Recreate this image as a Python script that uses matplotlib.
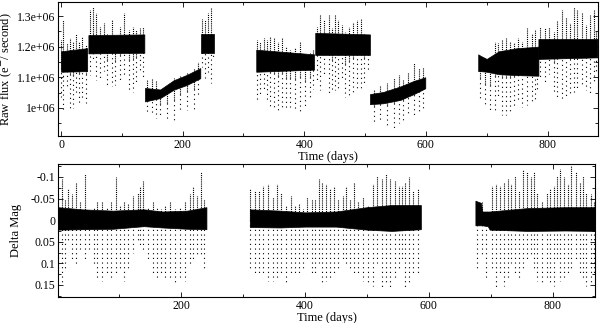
import numpy as np
import matplotlib
matplotlib.use('Agg')
import matplotlib.pyplot as plt
from matplotlib.ticker import MultipleLocator, FuncFormatter

# ---- top panel: raw flux, one band per quarter ----
top_band_seg = [1, 1, 2, 2, 3, 3, 3, 3, 3, 4, 4, 5, 5, 6, 6, 7, 7, 7, 7, 7,
                8, 8, 8, 8, 8, 8, 9, 9]
top_band_t = [0, 43, 45, 137, 138, 163, 185, 207, 229, 230, 252, 321, 416, 418, 508,
              508, 530, 558, 580, 599, 686, 690, 700, 720, 750, 785, 785, 882]
top_band_lo = [1.118, 1.120, 1.178, 1.180, 1.021, 1.032, 1.059, 1.075, 1.097, 1.178, 1.178,
               1.118, 1.125, 1.173, 1.173, 1.012, 1.015, 1.026, 1.045, 1.064,
               1.120, 1.120, 1.118, 1.110, 1.107, 1.105, 1.160, 1.165]
top_band_hi = [1.185, 1.195, 1.238, 1.240, 1.065, 1.060, 1.090, 1.108, 1.130, 1.240, 1.240,
               1.190, 1.175, 1.245, 1.240, 1.045, 1.052, 1.070, 1.088, 1.100,
               1.175, 1.170, 1.160, 1.185, 1.195, 1.200, 1.225, 1.225]

top_t = [0.5, 4, 9, 15, 19, 25, 30, 34, 41,
         48, 52, 58, 64, 71, 76, 83, 89, 97, 104, 111, 118, 124, 130, 135,
         141, 149, 156, 163, 174, 185, 196, 207, 218, 226,
         232, 237, 242, 246, 250,
         322, 327, 333, 338, 344, 350, 356, 363, 370, 377, 385, 393, 401, 410, 415,
         421, 426, 433, 440, 445, 451, 456, 462, 467, 473, 480, 486, 493, 498, 505,
         514, 525, 536, 547, 555, 563, 571, 580, 588, 595,
         689, 697, 706, 714, 719, 725, 732, 739, 745, 752, 758, 766, 774, 780, 783,
         788, 796, 802, 810, 816, 824, 830, 837, 843, 849, 856, 864, 870, 876, 880]
top_peak = [1.222, 1.287, 1.211, 1.227, 1.216, 1.243, 1.216, 1.233, 1.205,
            1.320, 1.330, 1.309, 1.265, 1.276, 1.243, 1.287, 1.233, 1.265, 1.309, 1.254, 1.265, 1.254, 1.260, 1.265,
            1.091, 1.097, 1.091, 1.059, 1.070, 1.097, 1.108, 1.118, 1.129, 1.151,
            1.292, 1.287, 1.309, 1.330, 1.243,
            1.222, 1.216, 1.227, 1.222, 1.233, 1.227, 1.216, 1.227, 1.200, 1.189, 1.195, 1.216, 1.173, 1.178, 1.189,
            1.265, 1.303, 1.287, 1.303, 1.260, 1.303, 1.287, 1.271, 1.249, 1.265, 1.276, 1.287, 1.292, 1.243, 1.233,
            1.059, 1.070, 1.080, 1.097, 1.108, 1.091, 1.118, 1.146, 1.129, 1.135,
            1.167, 1.151, 1.167, 1.216, 1.211, 1.222, 1.227, 1.216, 1.211, 1.227, 1.216, 1.260, 1.243, 1.254, 1.195,
            1.265, 1.260, 1.265, 1.249, 1.287, 1.320, 1.298, 1.276, 1.330, 1.320, 1.309, 1.271, 1.303, 1.320, 1.254]
top_dip = [1.037, 0.988, 1.060, 0.993, 0.999, 1.050, 1.015, 1.026, 1.015,
           1.108, 1.150, 1.091, 1.091, 1.120, 1.070, 1.070, 1.075, 1.080, 1.100, 1.059, 1.053, 1.080, 1.120, 1.097,
           0.988, 0.977, 0.966, 0.966, 0.962, 0.955, 0.985, 0.993, 0.993, 1.037,
           1.135, 1.097, 1.118, 1.080, 1.160,
           1.026, 1.037, 1.060, 1.026, 1.004, 0.999, 0.993, 0.999, 0.993, 1.004, 0.993, 0.988, 1.004, 1.026, 1.060,
           1.080, 1.059, 1.100, 1.048, 1.053, 1.059, 1.064, 1.090, 1.037, 1.042, 1.053, 1.064, 1.059, 1.080, 1.120,
           0.950, 0.955, 0.939, 0.934, 0.950, 0.961, 0.977, 0.972, 0.982, 0.993,
           1.026, 1.004, 0.983, 0.993, 1.030, 0.977, 0.977, 0.988, 0.999, 1.020, 1.004, 1.010, 1.021, 1.026, 1.060,
           1.102, 1.075, 1.110, 1.048, 1.037, 1.026, 1.032, 1.042, 1.053, 1.064, 1.070, 1.059, 1.048, 1.080, 1.120]

# ---- bottom panel: delta mag ----
bot_band_seg = [1, 1, 1, 1, 1, 1, 1, 2, 2, 2, 2, 2, 2, 2, 3, 3, 3, 3, 3, 3, 3, 3]
bot_band_t = [1.5, 40, 90, 140, 170, 210, 241, 311, 360, 400, 450, 500, 540, 587,
              675, 684, 686, 695, 698, 760, 820, 868]
bot_band_lo = [0.022, 0.021, 0.020, 0.014, 0.017, 0.020, 0.021,
               0.016, 0.017, 0.015, 0.015, 0.022, 0.025, 0.021,
               0.012, 0.012, 0.012, 0.014, 0.022, 0.025, 0.024, 0.025]
bot_band_hi = [-0.030, -0.025, -0.022, -0.025, -0.020, -0.022, -0.030,
               -0.025, -0.022, -0.018, -0.020, -0.030, -0.035, -0.035,
               -0.045, -0.040, -0.020, -0.020, -0.020, -0.028, -0.030, -0.030]

bot_t = [2, 7.5, 13, 18, 24, 31, 37, 45, 51, 59, 65, 72, 80, 87, 95, 102, 108, 115, 123, 130,
         134, 139, 147, 154, 161, 168, 174, 182, 190, 198, 206, 214, 220, 225, 233, 237,
         312, 319, 326, 333, 341, 348, 355, 362, 370, 377, 384, 391, 397, 404, 411, 416, 422, 427,
         434, 440, 447, 454, 461, 467, 473, 479, 486, 494, 502, 510, 516, 524, 531, 537, 545, 552,
         556, 561, 568, 575, 583,
         678, 685, 692, 701, 709, 714.5, 721, 728, 733, 739, 746, 752, 757.5, 764, 769, 775, 782,
         790, 795, 802, 806, 812, 818, 825, 830, 837, 843.5, 849, 854, 862, 866]
bot_peak = [-0.064, -0.095, -0.049, -0.072, -0.060, -0.087, -0.045, -0.107, -0.018, -0.029,
            -0.045, -0.041, -0.029, -0.041, -0.099, -0.033, -0.041, -0.037, -0.057, -0.064,
            -0.076, -0.091, -0.029, -0.041, -0.029, -0.026, -0.033, -0.045, -0.026, -0.029,
            -0.041, -0.060, -0.076, -0.057, -0.111, -0.049,
            -0.072, -0.068, -0.068, -0.080, -0.084, -0.053, -0.084, -0.064, -0.033, -0.057,
            -0.033, -0.037, -0.026, -0.053, -0.049, -0.049, -0.095, -0.087, -0.084, -0.072,
            -0.076, -0.049, -0.057, -0.076, -0.049, -0.087, -0.041, -0.053, -0.033, -0.084,
            -0.103, -0.095, -0.107, -0.095, -0.091, -0.080, -0.080, -0.087, -0.099, -0.068, -0.072,
            -0.045, -0.041, -0.014, -0.080, -0.084, -0.080, -0.087, -0.095, -0.084, -0.103,
            -0.068, -0.115, -0.111, -0.099, -0.111, -0.064, -0.041, -0.064, -0.072, -0.080,
            -0.103, -0.118, -0.099, -0.084, -0.126, -0.111, -0.087, -0.103, -0.064, -0.060, -0.041]
bot_dip = [0.114, 0.149, 0.114, 0.050, 0.091, 0.106, 0.067, 0.091, 0.067, 0.106,
           0.137, 0.141, 0.129, 0.133, 0.122, 0.114, 0.141, 0.114, 0.075, 0.050,
           0.060, 0.071, 0.098, 0.122, 0.133, 0.125, 0.137, 0.133, 0.145, 0.133,
           0.141, 0.106, 0.098, 0.083, 0.083, 0.114,
           0.118, 0.125, 0.122, 0.129, 0.141, 0.141, 0.137, 0.125, 0.149, 0.129,
           0.129, 0.122, 0.110, 0.090, 0.125, 0.129, 0.100, 0.145, 0.141, 0.137,
           0.125, 0.110, 0.090, 0.102, 0.114, 0.122, 0.129, 0.141, 0.149, 0.152,
           0.100, 0.156, 0.145, 0.160, 0.137, 0.114, 0.090, 0.156, 0.145, 0.122, 0.129,
           0.110, 0.083, 0.137, 0.114, 0.156, 0.129, 0.152, 0.137, 0.100, 0.125,
           0.137, 0.114, 0.098, 0.080, 0.114, 0.141, 0.145, 0.133, 0.149, 0.152,
           0.090, 0.141, 0.133, 0.122, 0.110, 0.090, 0.129, 0.137, 0.152, 0.145, 0.122]

plt.rcParams['font.family'] = ['Liberation Serif', 'DejaVu Serif']
plt.rcParams['axes.unicode_minus'] = False


def draw_panel(ax, seg, bt, blo, bhi, t, peak, dip, mid):
    seg = np.array(seg)
    bt, blo, bhi = np.array(bt), np.array(blo), np.array(bhi)
    for s in np.unique(seg):
        m = seg == s
        ax.fill_between(bt[m], blo[m], bhi[m], color='black', lw=0.5, zorder=3)
    # bright excursions: dense dotted columns
    ax.vlines(t, mid, peak, colors='black', linewidth=0.8,
              linestyles=(0, (1.0, 0.9)), zorder=2)
    # faint excursions: sparse dots
    ax.vlines(t, mid, dip, colors='black', linewidth=0.8,
              linestyles=(0, (1.0, 3.2)), zorder=2)


def style(ax):
    ax.tick_params(which='both', direction='in', top=True, right=True,
                   labelsize=8.5, width=0.6, pad=2)
    ax.tick_params(which='major', length=3.5)
    ax.tick_params(which='minor', length=2)
    for sp in ax.spines.values():
        sp.set_linewidth(0.8)


fig = plt.figure(figsize=(6, 3.23), dpi=100)
ax1 = fig.add_axes([58 / 600, 1 - 136 / 323, 540 / 600, 134 / 323])
ax2 = fig.add_axes([58 / 600, 1 - 297 / 323, 537 / 600, 133 / 323])

# the dotted columns start inside the band (at its lower edge level of 1.15e6 / 0)
draw_panel(ax1, top_band_seg, top_band_t, np.array(top_band_lo) * 1e6,
           np.array(top_band_hi) * 1e6, top_t, np.array(top_peak) * 1e6,
           np.array(top_dip) * 1e6, (np.array(top_peak) + np.array(top_dip)) / 2 * 1e6)
ax1.set_xlim(-5, 883)
ax1.set_ylim(0.908e6, 1.346e6)
ax1.xaxis.set_major_locator(MultipleLocator(200))
ax1.xaxis.set_minor_locator(MultipleLocator(100))
ax1.yaxis.set_major_locator(MultipleLocator(1e5))
ax1.yaxis.set_minor_locator(MultipleLocator(5e4))
ax1.yaxis.set_major_formatter(FuncFormatter(lambda v, p: '%g' % v))
ax1.set_xlabel('Time (days)', fontsize=9, labelpad=0)
ax1.set_ylabel(r'Raw flux (e$^{-}$/ second)', fontsize=9, labelpad=2)
style(ax1)

draw_panel(ax2, bot_band_seg, bot_band_t, bot_band_lo, bot_band_hi,
           bot_t, bot_peak, bot_dip, 0.0)
ax2.set_xlim(1.5, 868)
ax2.set_ylim(0.178, -0.130)
ax2.xaxis.set_major_locator(MultipleLocator(200))
ax2.xaxis.set_minor_locator(MultipleLocator(100))
ax2.yaxis.set_major_locator(MultipleLocator(0.05))
ax2.yaxis.set_minor_locator(MultipleLocator(0.025))
ax2.yaxis.set_major_formatter(FuncFormatter(lambda v, p: '%g' % round(v, 3)))
ax2.set_xlabel('Time (days)', fontsize=9, labelpad=0)
ax2.set_ylabel('Delta Mag', fontsize=9, labelpad=6)
style(ax2)

fig.savefig('out.png', dpi=100)
